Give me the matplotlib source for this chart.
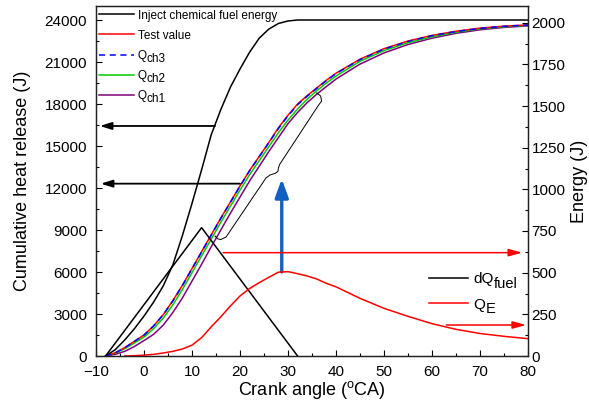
import numpy as np
import matplotlib
matplotlib.use('Agg')
from matplotlib import pyplot as plt
from matplotlib.ticker import MultipleLocator

plt.rcParams['font.family'] = ['Liberation Sans', 'DejaVu Sans']
plt.rcParams['mathtext.fontset'] = 'custom'
plt.rcParams['mathtext.rm'] = 'Liberation Sans'
plt.rcParams['mathtext.it'] = 'Liberation Sans:italic'

# ~~~~~~~~~~~~~~~~~~~~   data  ~~~~~~~~~~~~~~~~~~~~~~~~~~~~~~
# crank angle grid for the heat release curves
ca = [-8, -6, -4, -2, 0, 2, 4, 6, 8, 10, 12, 14, 16, 18, 20, 22, 24, 26, 28,
      30, 32, 34, 36, 38, 40, 45, 50, 55, 60, 65, 70, 75, 80]

q_test = [0, 230, 600, 1050, 1500, 2150, 2950, 3950, 5050, 6250, 7450, 8650,
          9850, 11000, 12150, 13250, 14250, 15250, 16300, 17200, 18000, 18600,
          19150, 19700, 20200, 21200, 21950, 22500, 22900, 23200, 23420, 23560, 23650]
q_ch3 = [0, 220, 590, 1040, 1490, 2140, 2940, 3930, 5030, 6230, 7430, 8630,
         9830, 10980, 12130, 13230, 14230, 15230, 16250, 17150, 17950, 18560,
         19120, 19670, 20170, 21170, 21920, 22470, 22880, 23180, 23400, 23550, 23640]
q_ch2 = [0, 200, 520, 930, 1350, 1950, 2700, 3650, 4750, 5950, 7150, 8350,
         9550, 10700, 11850, 12950, 13950, 14950, 15950, 16850, 17650, 18350,
         18950, 19500, 20000, 21050, 21820, 22380, 22800, 23130, 23370, 23520, 23620]
q_ch1 = [0, 120, 330, 680, 1100, 1550, 2200, 3100, 4150, 5350, 6550, 7800,
         9000, 10200, 11350, 12500, 13550, 14600, 15600, 16600, 17400, 18100,
         18700, 19250, 19780, 20850, 21650, 22250, 22700, 23050, 23300, 23470, 23580]

# injected chemical fuel energy (cumulative)
ca_fuel = [-8, -6, -4, -2, 0, 2, 4, 6, 8, 10, 12, 14, 16, 18, 20, 22, 24, 26, 28, 30, 32, 80]
q_fuel = [0, 450, 1150, 1950, 2850, 3850, 5000, 6500, 8600, 10900, 13300, 15800,
          17600, 19200, 20500, 21700, 22700, 23350, 23750, 23930, 24000, 24000]

# fuel injection rate (triangle) and Q_E, right axis
ca_dq = [-8, 12, 32]
dq_fuel = [0, 770, 0]

ca_qe = [-4, -2, 0, 2, 4, 6, 8, 10, 12, 14, 16, 18, 20, 22, 24, 26, 28, 30, 32,
         34, 36, 38, 40, 45, 50, 55, 60, 65, 70, 75, 80]
q_e = [0, 2, 5, 10, 18, 28, 42, 65, 110, 175, 235, 300, 360, 405, 440, 472, 503,
       506, 494, 480, 462, 436, 415, 346, 286, 238, 194, 160, 135, 118, 104]

# brace linking the curve bundle to the blue arrow
brace_x = [14.8, 15.4, 16.0, 17.1, 25.4, 26.25, 27.3, 27.9, 28.0, 28.3, 29.0, 36.25, 37.0, 36.8, 36.0]
brace_y = [8570, 8360, 8320, 8500, 12710, 12930, 13040, 13180, 13430, 13710, 14070, 17860, 18210, 18570, 18790]

# ~~~~~~~~~~~~~~~~~~~~   plot  ~~~~~~~~~~~~~~~~~~~~~~~~~~~~~~
fig = plt.figure(figsize=(5.89, 4.05), dpi=100)
ax = fig.add_axes([96/589, 1-356/405, 432/589, 350/405])
ax2 = ax.twinx()

l_fuel, = ax.plot(ca_fuel, q_fuel, color='black', lw=1.1, label='Inject chemical fuel energy')
l_c1, = ax.plot(ca, q_ch1, color='#800080', lw=1.1, label='Q')
l_c2, = ax.plot(ca, q_ch2, color='#00cc00', lw=1.1, label='Q')
l_test, = ax.plot(ca, q_test, color='red', lw=1.1, label='Test value')
l_c3, = ax.plot(ca, q_ch3, color='blue', lw=1.1, ls=(0, (4, 3)), label='Q')

ax.plot(brace_x, brace_y, color='black', lw=0.7)

# arrows to the left axis
black_arr = dict(arrowstyle='-|>,head_length=0.7,head_width=0.22', color='black', lw=1.3, shrinkA=0, shrinkB=0)
ax.annotate('', xy=(-9.2, 16430), xytext=(14.8, 16430), arrowprops=black_arr)
ax.annotate('', xy=(-9.0, 12310), xytext=(20.0, 12310), arrowprops=black_arr)

# blue arrow from Q_E peak
ax.annotate('', xy=(28.7, 12650), xytext=(28.7, 6000),
            arrowprops=dict(arrowstyle='-|>,head_length=1.1,head_width=0.4',
                            color='#1060c0', lw=2.4, shrinkA=0, shrinkB=0))

ax.set_xlim(-10, 80)
ax.set_ylim(0, 25000)
ax.xaxis.set_major_locator(MultipleLocator(10))
ax.xaxis.set_minor_locator(MultipleLocator(5))
ax.yaxis.set_major_locator(MultipleLocator(3000))
ax.yaxis.set_minor_locator(MultipleLocator(1500))
ax.set_xlabel('Crank angle ($^{\\mathregular{o}}$CA)', fontsize=13, labelpad=0)
ax.set_ylabel('Cumulative heat release (J)', fontsize=13, labelpad=10)

l_dq, = ax2.plot(ca_dq, dq_fuel, color='black', lw=1.1, label='dQ')
l_qe, = ax2.plot(ca_qe, q_e, color='red', lw=1.1, label='Q')

red_arr = dict(arrowstyle='-|>,head_length=0.8,head_width=0.22', color='red', lw=1.1, shrinkA=0, shrinkB=0)
ax2.annotate('', xy=(78.8, 620), xytext=(16.5, 620), arrowprops=red_arr)
ax2.annotate('', xy=(79.6, 186), xytext=(63.0, 186), arrowprops=red_arr)

ax2.set_ylim(0, 2100)
ax2.yaxis.set_major_locator(MultipleLocator(250))
ax2.yaxis.set_minor_locator(MultipleLocator(125))
ax2.set_ylabel('Energy (J)', fontsize=13, labelpad=4)

for a in (ax, ax2):
    a.tick_params(which='major', direction='in', length=4, width=0.8, labelsize=11)
    a.tick_params(which='minor', direction='in', length=2.5, width=0.8)
    for s in a.spines.values():
        s.set_linewidth(0.9)
        s.set_color('#222222')
ax.tick_params(axis='x', which='both', top=False, pad=6.5)
ax.tick_params(axis='y', which='both', right=False, pad=6.5)
ax2.tick_params(axis='y', pad=2.5)

leg1 = ax.legend(handles=[l_fuel, l_test, l_c3, l_c2, l_c1], loc='upper left',
                 bbox_to_anchor=(-0.01, 1.01), frameon=False, fontsize=8.5,
                 handlelength=3.0, handletextpad=0.3, labelspacing=0.68, borderaxespad=0.2)
leg2 = ax2.legend(handles=[l_dq, l_qe], loc='upper left', bbox_to_anchor=(0.756, 0.257),
                  frameon=False, fontsize=11, handlelength=2.6, handletextpad=0.3,
                  labelspacing=0.75, borderaxespad=0)

# full-size subscripts next to the legend labels
fig.canvas.draw()
for txt, sub in zip(leg1.get_texts()[2:], ['ch3', 'ch2', 'ch1']):
    ax2.annotate(sub, xy=(1, 0), xycoords=txt, xytext=(0.2, -2.5),
                 textcoords='offset points', fontsize=8.5, ha='left', va='bottom', zorder=6)
for txt, sub in zip(leg2.get_texts(), ['fuel', 'E']):
    ax2.annotate(sub, xy=(1, 0), xycoords=txt, xytext=(0.3, -3.2),
                 textcoords='offset points', fontsize=10.5, ha='left', va='bottom', zorder=6)

fig.savefig('out.png', dpi=100)
